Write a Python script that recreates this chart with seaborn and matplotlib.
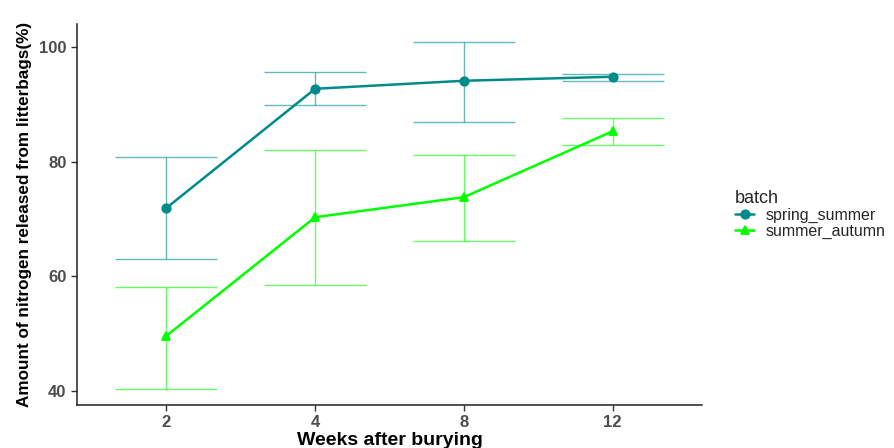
import numpy as np
import pandas as pd
import matplotlib
matplotlib.use("Agg")
import matplotlib.pyplot as plt
import seaborn as sns

weeks = ["2", "4", "8", "12"]
spring_summer_mean = [71.9, 92.7, 94.1, 94.8]
spring_summer_low = [63.0, 89.9, 86.9, 94.0]
spring_summer_high = [80.8, 95.6, 100.9, 95.2]
summer_autumn_mean = [49.6, 70.3, 73.8, 85.3]
summer_autumn_low = [40.3, 58.5, 66.2, 82.9]
summer_autumn_high = [58.1, 82.0, 81.2, 87.6]
batches = ["spring_summer", "summer_autumn"]
colors = {"spring_summer": "#008B8B", "summer_autumn": "#00FF00"}

sns.set_theme(style="ticks")
plt.rcParams["font.family"] = ["Liberation Sans", "DejaVu Sans"]

df = pd.DataFrame({
    "weeks": weeks * 2,
    "value": spring_summer_mean + summer_autumn_mean,
    "batch": ["spring_summer"] * 4 + ["summer_autumn"] * 4,
})

fig = plt.figure(figsize=(8.95, 4.48), dpi=100)
ax = fig.add_axes([77 / 895, 1 - 405 / 448, (702 - 77) / 895, (405 - 24) / 448])

# error bars from the lower/upper bounds
bounds = {
    "spring_summer": (spring_summer_mean, spring_summer_low, spring_summer_high),
    "summer_autumn": (summer_autumn_mean, summer_autumn_low, summer_autumn_high),
}
xpos = np.arange(len(weeks))
for b in batches:
    m, lo, hi = (np.array(v) for v in bounds[b])
    ax.errorbar(xpos, m, yerr=[m - lo, hi - m], fmt="none", ecolor=colors[b],
                alpha=0.6, elinewidth=1.0, capsize=37, capthick=1.0, zorder=1)

sns.pointplot(data=df, x="weeks", y="value", hue="batch", order=weeks,
              hue_order=batches, palette=colors, markers=["o", "^"],
              linestyles=["-", "-"], errorbar=None, ax=ax,
              markersize=6, linewidth=1.8)

ax.set_xlim(-0.6, 3.6)
ax.set_ylim(37.55, 104.0)
ax.set_yticks([40, 60, 80, 100])
for s in ["top", "right"]:
    ax.spines[s].set_visible(False)
for s in ["left", "bottom"]:
    ax.spines[s].set_color("#222222")
    ax.spines[s].set_linewidth(1.1)
ax.tick_params(axis="both", colors="#333333", length=4, width=1,
               labelsize=12, labelcolor="#4D4D4D")
for lab in ax.get_xticklabels() + ax.get_yticklabels():
    lab.set_fontweight("bold")

ax.set_xlabel("Weeks after burying", fontsize=14, fontweight="bold",
              color="black", labelpad=1)
ax.set_ylabel("Amount of nitrogen released from litterbags(%)", fontsize=12.3,
              fontweight="bold", color="black", labelpad=5)

leg = ax.legend(title="batch", loc="center left", bbox_to_anchor=(1.03, 0.5),
                frameon=False, fontsize=11.5, title_fontsize=13,
                handlelength=1.2, handletextpad=0.7, labelspacing=0.05,
                alignment="left")

fig.savefig("out.png", dpi=100)
